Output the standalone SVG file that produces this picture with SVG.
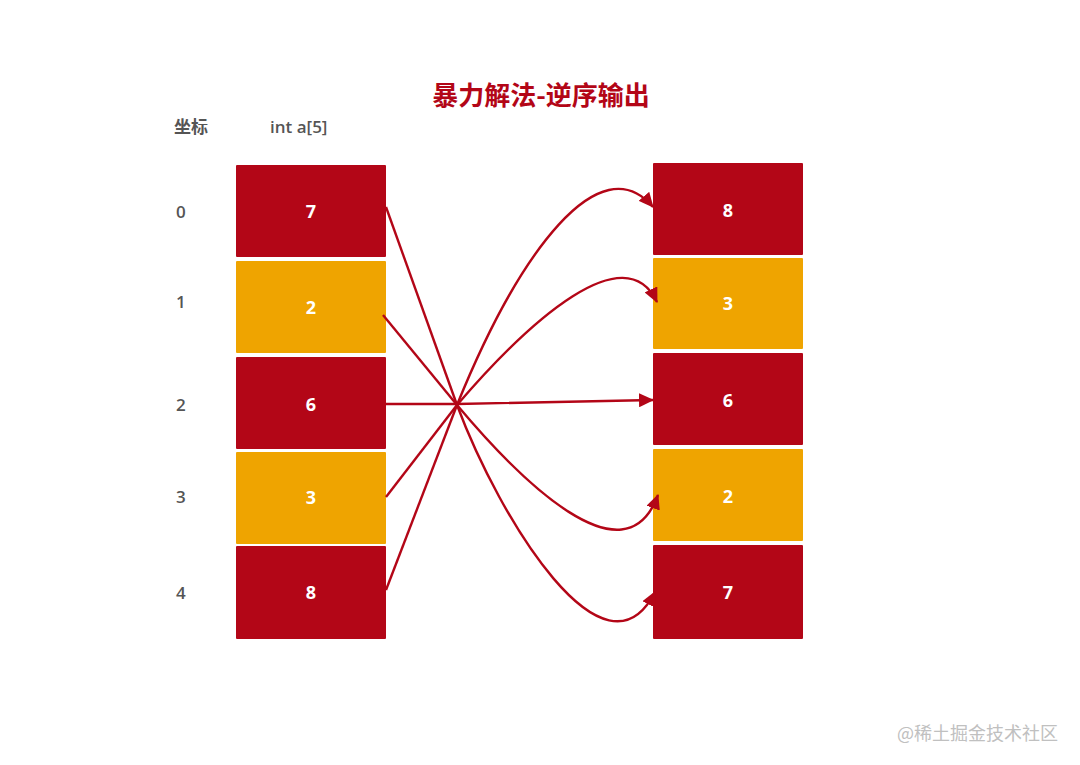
<svg xmlns="http://www.w3.org/2000/svg" width="1080" height="765" viewBox="0 0 1080 765">
<style>
.red{fill:#b30617}
.org{fill:#efa400}
.val{font-family:"Open Sans","Liberation Sans",sans-serif;font-weight:bold;font-size:18px;fill:#fff;text-anchor:middle}
.lbl{font-family:"Open Sans","Liberation Sans","Noto Sans CJK SC",sans-serif;font-weight:600;font-size:17px;fill:#555}
.edge{fill:none;stroke:#b30617;stroke-width:2.4}
</style>
<defs>
<marker id="arr" markerUnits="userSpaceOnUse" markerWidth="16" markerHeight="14" refX="14" refY="7" orient="auto">
<path d="M0,0 L15,7 L0,14 z" fill="#b30617"/>
</marker>
</defs>
<rect width="1080" height="765" fill="#fff"/>
<text x="541" y="105" font-family="'Noto Sans CJK SC',sans-serif" font-weight="bold" font-size="26" fill="#b30617" text-anchor="middle">暴力解法-逆序输出</text>
<text class="lbl" x="174" y="133" font-family="'Noto Sans CJK SC',sans-serif">坐标</text>
<text class="lbl" x="270" y="133">int a[5]</text>
<g id="idx">
<text class="lbl" x="176" y="218">0</text>
<text class="lbl" x="176" y="308">1</text>
<text class="lbl" x="176" y="411">2</text>
<text class="lbl" x="176" y="503">3</text>
<text class="lbl" x="176" y="599">4</text>
</g>
<g id="L0"><rect class="red" x="236" y="165" width="150" height="92" rx="1"/><text class="val" x="311" y="218">7</text></g>
<g id="L1"><rect class="org" x="236" y="261" width="150" height="92" rx="1"/><text class="val" x="311" y="314">2</text></g>
<g id="L2"><rect class="red" x="236" y="357" width="150" height="92" rx="1"/><text class="val" x="311" y="411">6</text></g>
<g id="L3"><rect class="org" x="236" y="452" width="150" height="92" rx="1"/><text class="val" x="311" y="504">3</text></g>
<g id="L4"><rect class="red" x="236" y="546" width="150" height="93" rx="1"/><text class="val" x="311" y="599">8</text></g>
<g id="R0"><rect class="red" x="653" y="163" width="150" height="92" rx="1"/><text class="val" x="728" y="217">8</text></g>
<g id="R1"><rect class="org" x="653" y="258" width="150" height="91" rx="1"/><text class="val" x="728" y="310">3</text></g>
<g id="R2"><rect class="red" x="653" y="353" width="150" height="92" rx="1"/><text class="val" x="728" y="407">6</text></g>
<g id="R3"><rect class="org" x="653" y="449" width="150" height="92" rx="1"/><text class="val" x="728" y="503">2</text></g>
<g id="R4"><rect class="red" x="653" y="545" width="150" height="94" rx="1"/><text class="val" x="728" y="599">7</text></g>
<g id="connectors">
<path class="edge" d="M386,207 L457,405"/>
<path class="edge" d="M383,315 L457,405"/>
<path class="edge" d="M386,497 L457,405"/>
<path class="edge" d="M386,590 L457,405"/>
<path class="edge" d="M386,404 L457,404 L653,400" marker-end="url(#arr)"/>
<path class="edge" d="M457,405 C520,250 600,145 653,207" marker-end="url(#arr)"/>
<path class="edge" d="M457,405 C530,320 625,235 657,302" marker-end="url(#arr)"/>
<path class="edge" d="M457,405 C520,480 625,585 658,495" marker-end="url(#arr)"/>
<path class="edge" d="M457,405 C500,520 605,690 655,592" marker-end="url(#arr)"/>
</g>
<text x="1058" y="740" font-family="'Noto Sans CJK SC',sans-serif" font-size="18" fill="#c0c0c0" text-anchor="end">@稀土掘金技术社区</text>
</svg>
